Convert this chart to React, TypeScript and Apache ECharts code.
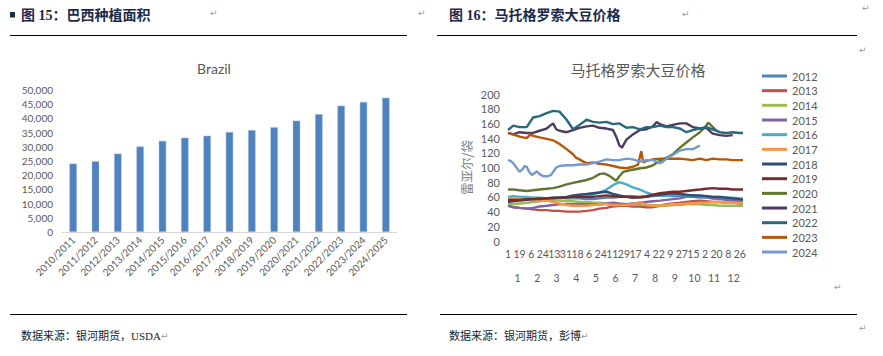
import React, { useEffect, useRef } from "react";
import * as echarts from "echarts";

const SEASONS = ["2010/2011","2011/2012","2012/2013","2013/2014","2014/2015","2015/2016","2016/2017","2017/2018","2018/2019","2019/2020","2020/2021","2021/2022","2022/2023","2023/2024","2024/2025"];
const AREA = [24100, 24900, 27600, 30100, 32100, 33200, 33900, 35200, 35900, 36900, 39200, 41500, 44500, 45800, 47300];

const YEARS = ["2012","2013","2014","2015","2016","2017","2018","2019","2020","2021","2022","2023","2024"];
const COLORS = ["#4F81BD","#C0504D","#9BBB59","#8064A2","#4BACC6","#F79646","#2C4D75","#772C2A","#5F7530","#4D3B62","#276A7C","#B65708","#729ACA"];

// shared sampling days (day of year)
const DAYS = [1,9,19,30,40,50,61,71,81,92,102,112,123,133,143,154,164,174,185,195,206,216,226,237,247,257,268,278,288,299,309,319,330,340,350,361,366];

const P2012 = [54,55,56,57,57,58,58,59,59,58,58,58,57,57,58,59,59,60,61,61,60,60,61,62,62,61,61,60,60,59,59,58,58,57,57,56,56];
const P2013 = [48,46,45,44,43,42,42,41,41,40,40,40,41,42,44,45,47,48,48,47,47,46,46,48,50,51,52,53,54,55,54,53,53,52,52,51,51];
const P2014 = [50,50,51,52,53,54,55,55,55,54,54,53,53,52,52,51,51,50,50,50,50,49,49,48,48,49,49,50,50,50,49,49,48,48,48,48,48];
const P2015 = [48,46,45,44,45,47,48,49,50,50,50,50,50,50,50,51,52,51,50,51,52,53,54,55,56,57,58,60,61,61,60,58,57,56,55,54,53];
const P2016 = [60,61,60,60,59,59,58,58,58,59,59,60,61,63,66,70,76,80,77,73,70,66,63,62,62,63,63,62,62,61,61,60,60,59,59,58,58];
const P2017 = [58,58,58,57,56,55,55,53,51,49,48,48,48,49,50,50,49,49,49,50,53,49,48,48,49,50,50,51,51,52,52,53,53,52,52,52,52];
const P2018 = [53,54,55,56,57,57,58,58,59,60,62,63,64,65,66,67,64,62,60,59,59,60,62,63,64,65,64,63,62,62,61,60,60,59,58,57,56];
const P2019 = [56,56,56,57,57,58,58,59,59,59,60,60,60,60,61,62,61,60,60,59,60,61,63,65,66,67,67,68,69,70,71,72,71,71,70,70,70];
const P2022 = [151,157,155,155,168,170,174,177,176,165,152,158,165,162,161,162,159,160,154,155,152,155,155,157,155,155,153,148,151,153,155,152,148,147,148,147,147];

const P2020: [number, number][] = [[1,70],[9,70],[19,69],[30,68],[40,69],[50,70],[61,71],[71,72],[81,74],[92,77],[102,79],[112,81],[123,83],[133,86],[143,91],[150,92],[158,89],[164,85],[169,82],[174,88],[180,94],[185,95],[195,97],[206,99],[216,100],[226,103],[237,109],[247,113],[257,118],[268,127],[278,134],[288,141],[299,148],[309,157],[312,161],[318,156],[325,150]];
const P2021: [number, number][] = [[1,147],[9,145],[19,148],[30,147],[40,147],[50,150],[61,153],[68,158],[71,160],[76,152],[81,150],[92,148],[102,151],[112,154],[123,156],[133,157],[143,154],[154,153],[164,151],[169,142],[174,130],[178,127],[185,138],[195,145],[206,151],[216,152],[226,156],[232,162],[237,159],[247,156],[257,158],[268,160],[278,160],[288,155],[299,153],[309,154],[319,146],[330,144],[340,143],[350,144]];
const P2023: [number, number][] = [[1,147],[9,145],[19,142],[30,140],[36,145],[40,143],[50,141],[61,139],[71,137],[81,132],[92,125],[102,118],[107,113],[112,111],[118,108],[123,106],[133,107],[143,105],[154,104],[164,102],[174,100],[185,99],[195,101],[203,104],[208,122],[211,107],[216,109],[226,111],[237,112],[247,112],[257,112],[268,112],[278,111],[288,110],[299,112],[309,110],[319,112],[330,111],[340,111],[350,110],[361,110],[366,110]];
const P2024: [number, number][] = [[1,110],[5,109],[9,106],[14,100],[19,94],[24,98],[27,102],[30,101],[34,94],[38,90],[42,92],[46,95],[50,91],[56,88],[62,88],[68,90],[72,95],[76,100],[81,102],[92,103],[102,103],[112,104],[123,104],[133,106],[143,108],[154,111],[164,110],[174,110],[185,112],[195,111],[206,108],[216,110],[226,110],[232,108],[237,106],[242,108],[247,112],[257,117],[268,123],[278,125],[288,125],[293,127],[299,130]];

const DAY_LABEL_POS = [1,19,37,55,73,91,109,127,145,163,181,199,217,235,253,271,289,307,325,343,361];
const DAY_LABELS = ["1","19","6","24","13","31","18","6","24","11","29","17","4","22","9","27","15","2","20","8","26"];
const MONTH_POS = [16,46.5,76.5,107,137.5,168,198.5,229.5,260,290.5,321,351.5];
const MONTH_LABELS = ["1","2","3","4","5","6","7","8","9","10","11","12"];

const Y_TICK_LABELS_LEFT = ["0","5,000","10,000","15,000","20,000","25,000","30,000","35,000","40,000","45,000","50,000"];

const GREY = "#595959";
const LATIN = "Lato, 'Noto Sans CJK SC', sans-serif";
const HEAD = "'Liberation Serif', 'Noto Sans CJK SC', serif";

export default function App() {
  const ref = useRef<HTMLDivElement>(null);
  useEffect(() => {
    if (!ref.current) return;
    const chart = echarts.init(ref.current, undefined, { renderer: "svg" });
    const sparse = [P2012,P2013,P2014,P2015,P2016,P2017,P2018,P2019,null,null,P2022,null,null];
    const pairs: any[] = [null,null,null,null,null,null,null,null,P2020,P2021,null,P2023,P2024];
    const lineSeries = YEARS.map((y, i) => ({
      name: y,
      type: "line",
      xAxisIndex: 1,
      yAxisIndex: 1,
      showSymbol: false,
      symbol: "none",
      silent: true,
      data: sparse[i] ? (sparse[i] as number[]).map((v, k) => [DAYS[k], v]) : pairs[i],
      lineStyle: { width: 2.4, color: COLORS[i] },
      itemStyle: { color: COLORS[i] },
      z: 2 + i,
    }));
    const mark = (x: number, y: number) => ({
      type: "text", x, y,
      style: { text: "\u21B5", fontSize: 9, fill: "#9a9a9a", fontFamily: "DejaVu Sans", textVerticalAlign: "middle" },
    });
    const footRich = { m: { fontSize: 9, fill: "#9a9a9a", fontFamily: "DejaVu Sans" } };
    chart.setOption({
      animation: false,
      grid: [
        { left: 62, top: 90, width: 335, height: 142 },
        { left: 508, top: 94, width: 235, height: 147 },
      ],
      xAxis: [
        {
          type: "category", gridIndex: 0, data: SEASONS,
          axisTick: { show: false },
          axisLine: { lineStyle: { color: "#d9d9d9" } },
          axisLabel: { interval: 0, rotate: 45, fontSize: 10, color: GREY, fontFamily: LATIN, margin: 6 },
        },
        {
          type: "value", gridIndex: 1, min: 1, max: 366,
          axisLine: { show: false }, axisTick: { show: false }, splitLine: { show: false },
          axisLabel: {
            customValues: DAY_LABEL_POS, fontSize: 10.5, color: GREY, fontFamily: LATIN, margin: 8,
            formatter: (v: number) => { const k = DAY_LABEL_POS.indexOf(v); return k >= 0 ? DAY_LABELS[k] : ""; },
          },
        },
        {
          type: "value", gridIndex: 1, min: 1, max: 366, position: "bottom", offset: 24,
          axisLine: { show: false }, axisTick: { show: false }, splitLine: { show: false },
          axisLabel: {
            customValues: MONTH_POS, fontSize: 10.5, color: GREY, fontFamily: LATIN, margin: 8,
            formatter: (v: number) => { const k = MONTH_POS.indexOf(v); return k >= 0 ? MONTH_LABELS[k] : ""; },
          },
        },
      ],
      yAxis: [
        {
          type: "value", gridIndex: 0, min: 0, max: 50000, interval: 5000,
          splitLine: { show: false }, axisLine: { show: false }, axisTick: { show: false },
          axisLabel: {
            fontSize: 10, color: GREY, fontFamily: LATIN, margin: 9,
            formatter: (v: number) => Y_TICK_LABELS_LEFT[Math.round(v / 5000)] ?? "",
          },
        },
        {
          type: "value", gridIndex: 1, min: 0, max: 200, interval: 20,
          splitLine: { show: false }, axisLine: { show: false }, axisTick: { show: false },
          axisLabel: { fontSize: 11, color: GREY, fontFamily: LATIN, margin: 8 },
          name: "雷亚尔/袋", nameLocation: "middle", nameRotate: 90, nameGap: 35,
          nameTextStyle: { fontSize: 12.5, color: "#808080", fontFamily: "'Noto Sans CJK SC'" },
        },
      ],
      legend: {
        orient: "vertical", left: 762, top: 69, padding: 0,
        itemWidth: 25, itemHeight: 3, itemGap: 0.67, icon: "rect",
        textStyle: { fontSize: 11, color: GREY, fontFamily: LATIN, lineHeight: 14 },
        data: YEARS, selectedMode: false,
      },
      series: [
        {
          type: "bar", xAxisIndex: 0, yAxisIndex: 0, data: AREA, barWidth: 7.5, silent: true,
          itemStyle: { color: "#4F81BD", borderColor: "#a9c4e6", borderWidth: 0.5 },
        },
        ...lineSeries,
      ],
      graphic: [
        { type: "rect", shape: { x: 10, y: 12, width: 5, height: 5.5 }, style: { fill: "#1b2a4a" } },
        { type: "text", x: 21, y: 15, style: { text: "图 15：巴西种植面积", fontSize: 14, fontWeight: "bold", fill: "#1b2a4a", fontFamily: HEAD, textVerticalAlign: "middle" } },
        mark(210, 13), mark(418, 13),
        { type: "line", shape: { x1: 10, y1: 35.5, x2: 407, y2: 35.5 }, style: { stroke: "#000", lineWidth: 1.2 } },
        { type: "text", x: 449, y: 15, style: { text: "图 16：马托格罗索大豆价格", fontSize: 14, fontWeight: "bold", fill: "#1b2a4a", fontFamily: HEAD, textVerticalAlign: "middle" } },
        mark(682, 14), mark(862, 8),
        { type: "line", shape: { x1: 437, y1: 35.5, x2: 857, y2: 35.5 }, style: { stroke: "#000", lineWidth: 1.2 } },
        mark(859, 50), mark(834, 287),
        { type: "text", x: 214, y: 68, style: { text: "Brazil", fontSize: 14, fill: GREY, fontFamily: LATIN, textAlign: "center", textVerticalAlign: "middle" } },
        { type: "text", x: 638, y: 69, style: { text: "马托格罗索大豆价格", fontSize: 15, fill: GREY, fontFamily: "'Noto Sans CJK SC'", textAlign: "center", textVerticalAlign: "middle" } },
        { type: "line", shape: { x1: 10, y1: 314.5, x2: 407, y2: 314.5 }, style: { stroke: "#000", lineWidth: 1.2 } },
        { type: "line", shape: { x1: 440, y1: 314.5, x2: 857, y2: 314.5 }, style: { stroke: "#000", lineWidth: 1.2 } },
        { type: "text", x: 21, y: 336, style: { text: "数据来源：银河期货，USDA{m|\u21B5}", rich: footRich, fontSize: 11, fill: "#222", fontFamily: HEAD, textVerticalAlign: "middle" } },
        { type: "text", x: 449, y: 336, style: { text: "数据来源：银河期货，彭博{m|\u21B5}", rich: footRich, fontSize: 11, fill: "#222", fontFamily: HEAD, textVerticalAlign: "middle" } },
        mark(859, 328),
      ],
    });
    return () => chart.dispose();
  }, []);
  return <div ref={ref} style={{ position: "absolute", left: 0, top: 0, width: 883, height: 356 }} />;
}
